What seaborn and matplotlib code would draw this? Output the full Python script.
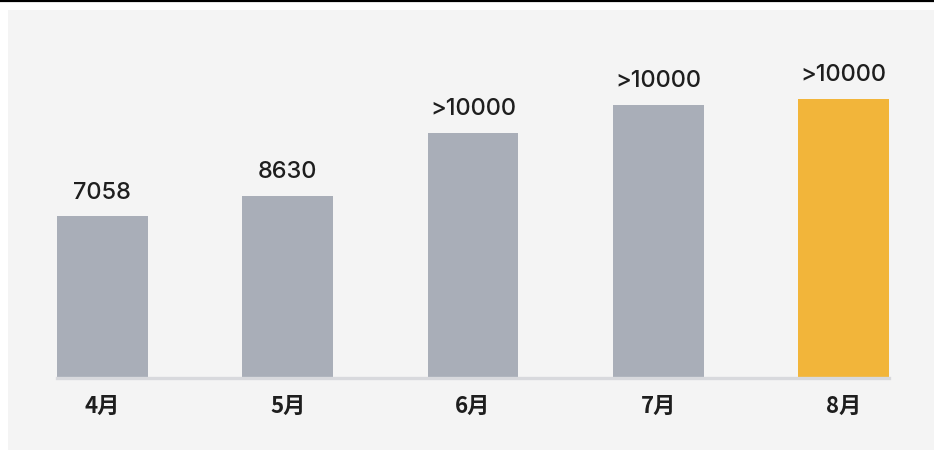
import matplotlib
matplotlib.use("Agg")
import matplotlib.pyplot as plt
import seaborn as sns
import pandas as pd
from matplotlib.patches import Rectangle
from matplotlib.lines import Line2D

# data
months = ["4月", "5月", "6月", "7月", "8月"]
heights = [7058, 7930, 10675, 11895, 12156]
labels = ["7058", "8630", ">10000", ">10000", ">10000"]
colors = ["#a9aeb8", "#a9aeb8", "#a9aeb8", "#a9aeb8", "#f2b53a"]

sns.set_style("white")
plt.rcParams["font.family"] = ["Inter", "Noto Sans CJK SC", "DejaVu Sans"]

df = pd.DataFrame({"month": months, "value": heights})

fig = plt.figure(figsize=(9.34, 4.5), dpi=100)
fig.patch.set_facecolor("white")
# light panel and top rule, kept behind the axes
fig.add_artist(Rectangle((8 / 934, 0), 1, 440 / 450, transform=fig.transFigure,
                         facecolor="#f4f4f4", edgecolor="none", zorder=-10))
fig.add_artist(Line2D([0, 1], [1 - 1 / 450, 1 - 1 / 450], transform=fig.transFigure,
                      color="black", linewidth=1.6, zorder=-10))

ax = fig.add_axes([57 / 934, 72 / 450, 832 / 934, 318 / 450])
ax.set_facecolor("none")
sns.barplot(data=df, x="month", y="value", hue="month", palette=colors,
            width=0.49, legend=False, ax=ax, saturation=1, linewidth=0)

ax.set_xlim(-0.245, 4.245)
ax.set_ylim(0, 13855)

for i, (h, t) in enumerate(zip(heights, labels)):
    ax.annotate(t, (i, h), xytext=(0, 9), textcoords="offset points",
                ha="center", va="bottom", fontsize=17, fontweight="medium",
                color="#1e1e1e", family=["Inter", "DejaVu Sans"])

for s in ["top", "right", "left"]:
    ax.spines[s].set_visible(False)
ax.spines["bottom"].set_color("#d8d9dd")
ax.spines["bottom"].set_linewidth(2.4)
ax.set_yticks([])
ax.set_xlabel("")
ax.set_ylabel("")
ax.tick_params(axis="x", length=0, pad=12)
for lab in ax.get_xticklabels():
    lab.set_fontsize(16)
    lab.set_fontweight("bold")
    lab.set_color("#1e1e1e")
    lab.set_family(["Noto Sans CJK SC", "DejaVu Sans"])

fig.savefig("out.png", dpi=100)
